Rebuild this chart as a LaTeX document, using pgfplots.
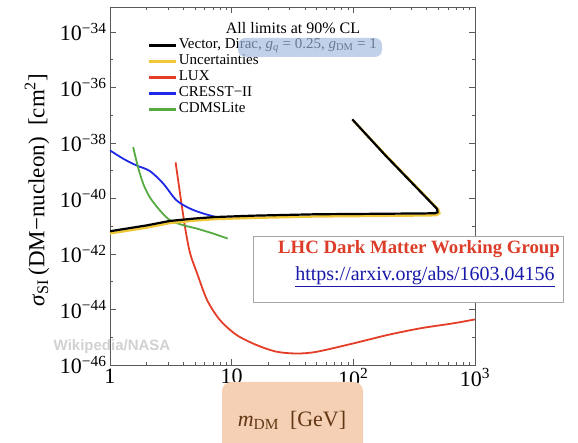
\documentclass[border=0pt]{standalone}
\usepackage{pgfplots}
\pgfplotsset{compat=1.18}
\usepackage{fontspec}
\setmainfont{Liberation Serif}
\newfontfamily\wmfont{Liberation Sans}
\definecolor{cyel}{RGB}{240,200,55}
\definecolor{cred}{RGB}{228,62,40}
\definecolor{cblue}{RGB}{30,40,230}
\definecolor{cgreen}{RGB}{85,170,65}
\definecolor{peach}{RGB}{245,208,180}
\definecolor{brownt}{RGB}{100,55,20}
\definecolor{hlblue}{RGB}{160,185,222}
\definecolor{lhcred}{RGB}{220,60,40}
\definecolor{urlblue}{RGB}{25,25,170}
\begin{document}
\begin{tikzpicture}
\path[use as bounding box] (-110pt,-78pt) rectangle (468pt,365pt);
\begin{axis}[
  at={(0pt,0pt)}, anchor=south west,
  scale only axis, width=365pt, height=358pt,
  xmode=log, ymode=log,
  xmin=1, xmax=1000, ymin=1e-46, ymax=7.9e-34,
  axis line style={black!65, line width=0.6pt},
  tick style={black!65, line width=0.5pt},
  tick align=inside,
  major tick length=6pt, minor tick length=3pt,
  xtick={1,10,100,1000},
  xticklabels={1,10,10\textsuperscript{2},10\textsuperscript{3}},
  minor xtick={2,3,4,5,6,7,8,9,20,30,40,50,60,70,80,90,200,300,400,500,600,700,800,900},
  ytick={1e-46,1e-44,1e-42,1e-40,1e-38,1e-36,1e-34},
  yticklabels={10\textsuperscript{−46},10\textsuperscript{−44},10\textsuperscript{−42},10\textsuperscript{−40},10\textsuperscript{−38},10\textsuperscript{−36},10\textsuperscript{−34}},
  minor ytick={1e-45,1e-43,1e-41,1e-39,1e-37,1e-35,1e-33},
  ticklabel style={font=\fontsize{22}{24}\selectfont},
  legend style={at={(0.104,0.916)}, anchor=north west, draw=none, fill=none,
    font=\fontsize{15}{16}\selectfont, row sep=0pt, inner sep=0pt,
    nodes={inner sep=1pt, text height=10pt, text depth=4pt}},
  legend cell align=left,
  legend image code/.code={\draw[#1] (0pt,0pt) -- (27pt,0pt);},
]
\addlegendimage{black, line width=2.6pt}
\addlegendentry{Vector, Dirac, \textit{g}\textsubscript{\textit{q}} = 0.25, \textit{g}\textsubscript{DM} = 1}
\addlegendimage{cyel, line width=2.6pt}
\addlegendentry{Uncertainties}
\addlegendimage{cred, line width=2.6pt}
\addlegendentry{LUX}
\addlegendimage{cblue, line width=2.6pt}
\addlegendentry{CRESST−II}
\addlegendimage{cgreen, line width=2.6pt}
\addlegendentry{CDMSLite}

% LUX
\addplot[cred, line width=1.8pt, smooth, forget plot] coordinates {
(3.46,2.0e-39) (3.73,2.0e-40) (4.14,9.1e-42) (4.55,1.07e-42) (5.2,2.0e-43)
(6.28,2.2e-44) (8.0,4.2e-45) (11.0,1.2e-45) (16.1,5.2e-46) (23.5,3.0e-46)
(34.4,2.6e-46) (50,3.0e-46) (100,6.0e-46) (190,1.2e-45) (355,2.1e-45)
(670,3.2e-45) (1000,4.4e-45)};
% CRESST-II
\addplot[cblue, line width=1.8pt, smooth, forget plot] coordinates {
(1,5.4e-39) (1.285,2.7e-39) (1.65,1.55e-39) (2.12,9.8e-40) (2.73,3.5e-40)
(3.51,8.7e-41) (4.51,4.4e-41) (5.8,2.9e-41) (7.45,2.14e-41)};
% CDMSLite
\addplot[cgreen, line width=1.8pt, smooth, forget plot] coordinates {
(1.55,7.1e-39) (1.70,1.35e-39) (1.87,3.5e-40) (2.12,1.12e-40) (2.56,3.8e-41)
(3.1,1.66e-41) (3.97,1.1e-41) (5.12,8.3e-42) (7.0,5.5e-42) (9.27,3.6e-42)};
% Uncertainties
\addplot[cyel, line width=2.4pt, forget plot] coordinates {
(1,5.5e-42) (2,8.9e-42) (3.1,1.3e-41) (5,1.6e-41) (7.2,1.8e-41) (15,2.0e-41)
(50,2.25e-41) (150,2.35e-41) (400,2.45e-41) (480,2.5e-41) (510,2.9e-41)
(500,4.0e-41) (190,3.2e-39) (100,6.3e-38)};
% Vector Dirac
\addplot[black, line width=2.2pt, forget plot] coordinates {
(1,6.6e-42) (2,1.07e-41) (3.1,1.55e-41) (5,1.9e-41) (7.2,2.14e-41) (15,2.4e-41)
(50,2.7e-41) (150,2.8e-41) (400,2.9e-41) (470,2.95e-41) (492,3.2e-41)
(488,4.2e-41) (183,3.6e-39) (98,7.1e-38)};
\end{axis}
% highlight
\fill[hlblue, opacity=0.65, rounded corners=7pt] (128pt,308pt) rectangle (272pt,327pt);
% title
\node[font=\fontsize{16}{18}\selectfont] at (183pt,337pt) {All limits at 90\% CL};
% LHC box
\draw[black!35, fill=white, line width=0.6pt] (143pt,63pt) rectangle (453pt,129pt);
\node[text=lhcred, font=\fontsize{18.8}{20}\selectfont\bfseries] at (309pt,116pt) {LHC Dark Matter Working Group};
\node[text=urlblue, font=\fontsize{20}{22}\selectfont] at (315pt,88pt) {\underline{https://arxiv.org/abs/1603.04156}};
% x label
\fill[peach, rounded corners=9pt] (112pt,-17pt) rectangle (253pt,-100pt);
\node[text=brownt, font=\fontsize{22}{24}\selectfont] at (182pt,-55pt) {\textit{m}\textsubscript{DM}\ \ [GeV]};
% y label
\node[rotate=90, font=\fontsize{23}{25}\selectfont] at (-73pt,175pt) {\textit{σ}\textsubscript{SI}\,(DM−nucleon)\ \ [cm\textsuperscript{2}]};
% watermark
\node[text=black!18, font=\wmfont\bfseries\fontsize{15}{17}\selectfont] at (2pt,18pt) {Wikipedia/NASA};
\end{tikzpicture}
\end{document}
